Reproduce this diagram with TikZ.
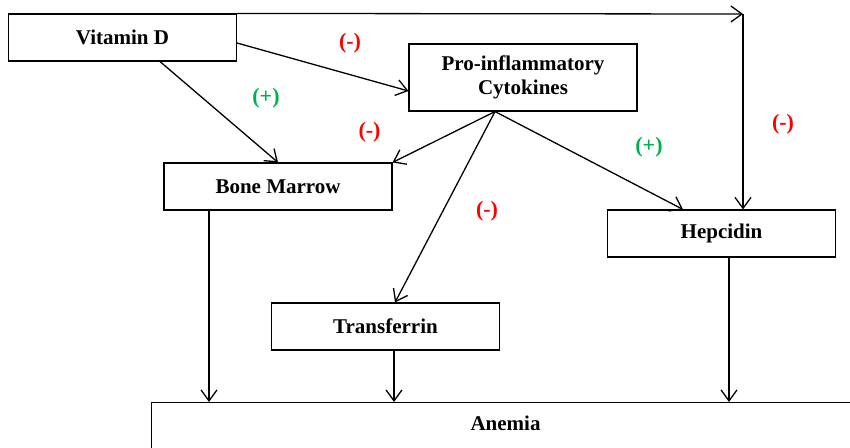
\documentclass[tikz,border=0pt]{standalone}
\usepackage{fontspec}
\setmainfont{Liberation Serif}
\usetikzlibrary{arrows.meta, positioning, calc}
\definecolor{MinusColor}{HTML}{FF0000}
\definecolor{PlusColor}{HTML}{00B050}

\begin{document}
\begin{tikzpicture}[
    x=1pt, y=-1pt,
    box/.style={rectangle, draw=black, line width=1.1pt, minimum width=228pt, minimum height=47pt, align=center, font=\fontsize{21}{23.5}\selectfont\bfseries, inner sep=2pt},
    signtext/.style={font=\fontsize{22}{24}\selectfont\bfseries, inner sep=0pt},
    plussign/.style={signtext, text=PlusColor},
    minussign/.style={signtext, text=MinusColor},
    arrow/.style={-{Straight Barb[length=11pt, width=16pt]}, line width=1.3pt}
  ]
    \useasboundingbox (0,0) rectangle (850,447);
    \clip (0,0) rectangle (850,447);

    % Nodes
    \node[box] (vitd) at (122.5,37.5) {Vitamin D};
    \node[box, minimum height=67pt] (cyto) at (523,77.5) {Pro-inflammatory\\Cytokines};
    \node[box] (marrow) at (278,186.5) {Bone Marrow};
    \node[box] (hepc) at (721.5,233.5) {Hepcidin};
    \node[box] (transf) at (385.5,326.5) {Transferrin};
    \node[box, anchor=north west, minimum width=708pt, minimum height=50pt, text depth=8pt] (anemia) at (151,402) {Anemia};

    % Connections
    \coordinate (corner) at (743,14);
    \coordinate (fan) at ([xshift=-28pt]cyto.south);
    \draw[arrow] (vitd.north east) -- (corner);
    \draw[arrow] (corner) -- (corner |- hepc.north);
    \draw[arrow] ([yshift=-5.5pt]vitd.east) -- ([yshift=-13.5pt]cyto.west);
    \draw[arrow] ([xshift=37.5pt]vitd.south) -- (marrow.north);
    \draw[arrow] (fan) -- (marrow.north east);
    \draw[arrow] (fan) -- ([xshift=9.5pt]transf.north);
    \draw[arrow] (fan) -- ([xshift=-38.5pt]hepc.north);
    \draw[arrow] ([xshift=-69pt]marrow.south) -- ([xshift=-69pt]marrow.south |- anemia.north);
    \draw[arrow] ([xshift=8.5pt]transf.south) -- ([xshift=8.5pt]transf.south |- anemia.north);
    \draw[arrow] ([xshift=7.5pt]hepc.south) -- ([xshift=7.5pt]hepc.south |- anemia.north);

    % Signs
    \node[minussign] (sign1) at (350,43) {(-)};
    \node[plussign] (sign2) at (266,98) {(+)};
    \node[minussign] (sign3) at (369.5,132) {(-)};
    \node[plussign] (sign4) at (649,147) {(+)};
    \node[minussign] (sign5) at (487,211) {(-)};
    \node[minussign] (sign6) at (783,124) {(-)};
\end{tikzpicture}
\end{document}
